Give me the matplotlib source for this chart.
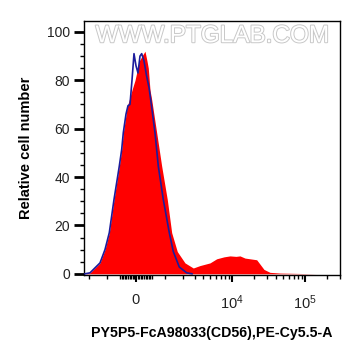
import matplotlib.pyplot as plt
import matplotlib.patheffects as pe
import numpy as np

plt.rcParams['font.family'] = ['Liberation Sans', 'DejaVu Sans']
plt.rcParams['mathtext.default'] = 'regular'

# histogram channels (0-256 display channels) and relative cell counts
red_ch = [1, 6, 16, 21, 25.3, 30, 35.3, 37.7, 39.3, 43.3, 45.3, 48, 51, 55.3, 58, 61,
          63, 64.3, 66, 67.7, 72.7, 77.7, 83.3, 87.7, 93.3, 101, 109.3, 116, 126, 132.7,
          140, 146, 152, 156, 161, 166, 172.7, 176, 180, 186, 196, 209, 232, 256]
red_val = [0, 0.4, 4.5, 10, 17, 30.7, 44.5, 51.4, 58.3, 69.3, 72, 76, 80, 88, 90, 92,
           88, 85, 76, 72, 58.3, 44.5, 30.7, 17, 9.2, 4.5, 2.4, 3.4, 4.5, 6.2,
           7, 7.4, 7.2, 7.4, 6.5, 6.2, 5.8, 4, 1.8, 0.6, 0.3, 0.2, 0, 0]

blue_ch = [1, 6, 16, 21, 25.3, 30, 35.3, 37.7, 39.3, 42, 44, 46, 48, 50, 52, 54, 56,
           57.7, 60, 62.5, 65, 66.7, 68, 71, 74.3, 79.3, 85.3, 89.3, 95.3, 102.7, 108]
blue_val = [0, 0.4, 4.5, 10, 17, 30.7, 44.5, 51.4, 58.3, 66, 69.5, 70, 80, 91, 86, 83, 90,
            91, 88, 82, 77, 72, 68, 58.3, 44.5, 30.7, 17, 9.2, 2.8, 0.4, 0]

y_ticks = [0, 20, 40, 60, 80, 100]


def chan(v):
    # arcsinh-like display transform used by the cytometer axis
    return 52 + 31.7 * np.arcsinh(np.asarray(v, dtype=float) / 970.0)


fig = plt.figure(figsize=(3.61, 3.56), dpi=100)
ax = fig.add_axes([0.2327, 0.2275, 0.709, 0.7135])

ax.fill_between(red_ch, red_val, 0, color='#ff0000', lw=0, zorder=2)
ax.plot(blue_ch, blue_val, color='#1c1c9c', lw=1.2, zorder=3)

ax.set_xlim(0, 256)
ax.set_ylim(-0.5, 104.5)

ax.set_yticks(y_ticks)
ax.set_yticks(np.arange(0, 105, 5), minor=True)
ax.tick_params(axis='y', which='major', length=7, width=2, labelsize=10,
               labelcolor='#222222', pad=3)
ax.tick_params(axis='y', which='minor', length=3, width=1)

major_v = [0, 1e4, 1e5]
ax.set_xticks(chan(major_v))
ax.set_xticklabels(['0', '$10^4$', '$10^5$'])
minor_v = list(np.arange(-500, 501, 50)) + [-1000, -2000]
minor_v += [k * 10 ** e for e in (3, 4, 5) for k in range(1, 10)]
minor_pos = [p for p in chan(minor_v) if 0 <= p <= 256]
ax.set_xticks(minor_pos, minor=True)
ax.tick_params(axis='x', which='major', length=5, width=1.5, labelsize=10.5,
               labelcolor='#222222', pad=8)
ax.tick_params(axis='x', which='minor', length=3, width=1)

for s in ax.spines.values():
    s.set_linewidth(1)

ax.text(0.5, 0.94, 'WWW.PTGLAB.COM', transform=ax.transAxes, ha='center', va='center',
        fontsize=17.5, color='white', zorder=1,
        path_effects=[pe.withStroke(linewidth=1.4, foreground='#c8c8c8')])

ax.set_ylabel('Relative cell number', fontsize=10.5, fontweight='bold', labelpad=10)
ax.set_xlabel('PY5P5-FcA98033(CD56),PE-Cy5.5-A', fontsize=10.2, fontweight='bold',
              labelpad=10)

fig.savefig('out.png', dpi=100)
